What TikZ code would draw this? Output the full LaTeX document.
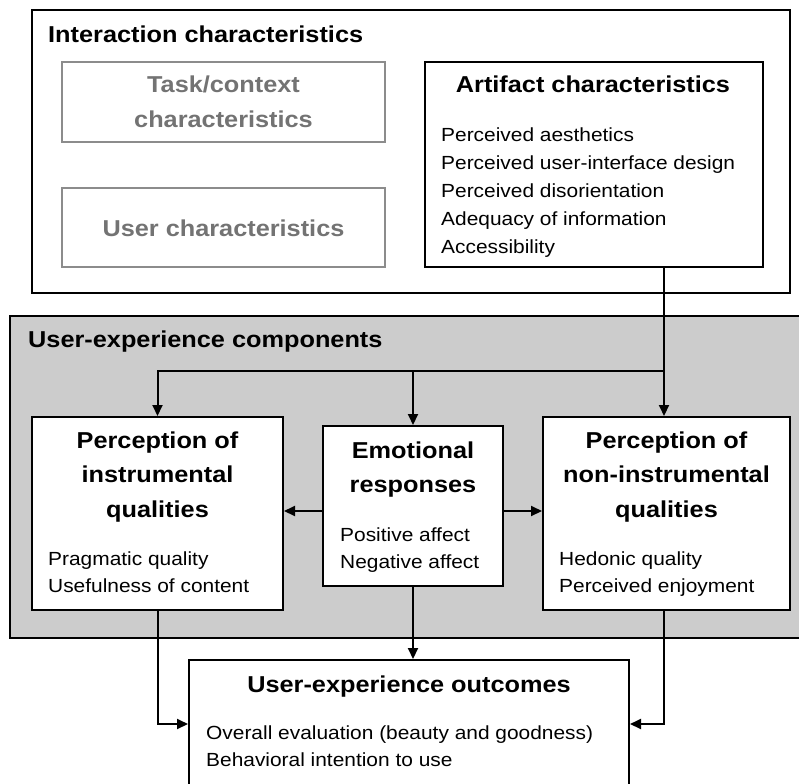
\documentclass[tikz,border=0pt]{standalone}
\usepackage{fontspec}
\setmainfont{Liberation Sans}[FakeStretch=1.1]
\usetikzlibrary{arrows.meta}

\begin{document}
\begin{tikzpicture}[x=1pt,y=-1pt,
  box/.style={draw, line width=2pt, fill=white, inner sep=0},
  ghost/.style={draw=black!45, line width=1.8pt, inner sep=0},
  head/.style={font=\fontsize{23}{28}\selectfont\bfseries, anchor=base, inner sep=0},
  item/.style={font=\fontsize{19}{23}\selectfont, anchor=base west, inner sep=0},
  flow/.style={line width=2pt, -{Triangle[length=11pt,width=10pt]}}]
  \useasboundingbox (0,0) rectangle (799,783);

  % Interaction characteristics
  \draw[line width=2pt] (32,10) rectangle (790,293);
  \node[head, anchor=base west] (inter) at (48,43) {Interaction characteristics};

  \node[ghost, minimum width=323pt, minimum height=80pt] (task) at (223.5,102) {};
  \node[head, text=black!55] (task1) at (223.5,93) {Task/context};
  \node[head, text=black!55] (task2) at (223.5,128) {characteristics};

  \node[ghost, minimum width=323pt, minimum height=79pt] (user) at (223.5,227.5) {};
  \node[head, text=black!55] (user1) at (223.5,237) {User characteristics};

  \node[box, minimum width=338pt, minimum height=205pt] (art) at (594,164.5) {};
  \node[head] (arthead) at (593,93) {Artifact characteristics};
  \foreach \t [count=\i] in {Perceived aesthetics, Perceived user-interface design,
      Perceived disorientation, Adequacy of information, Accessibility}
    \node[item] (art\i) at (441,{142+28*(\i-1)}) {\t};

  % User-experience components
  \draw[line width=2pt, fill=black!20] (10,316) rectangle (810,638);
  \node[head, anchor=base west] (comp) at (28,347) {User-experience components};

  \node[box, minimum width=251pt, minimum height=193pt] (instr) at (157.5,513.5) {};
  \foreach \t [count=\i] in {Perception of, instrumental, qualities}
    \node[head] (instr\i) at (157.5,{448+34.5*(\i-1)}) {\t};
  \foreach \t [count=\i] in {Pragmatic quality, Usefulness of content}
    \node[item] (instrit\i) at (48,{565+27.5*(\i-1)}) {\t};

  \node[box, minimum width=180pt, minimum height=160pt] (emo) at (413,506) {};
  \foreach \t [count=\i] in {Emotional, responses}
    \node[head] (emo\i) at (413,{458+34.5*(\i-1)}) {\t};
  \foreach \t [count=\i] in {Positive affect, Negative affect}
    \node[item] (emoit\i) at (340,{541+27.5*(\i-1)}) {\t};

  \node[box, minimum width=247pt, minimum height=193pt] (noni) at (666.5,513.5) {};
  \foreach \t [count=\i] in {Perception of, non-instrumental, qualities}
    \node[head] (noni\i) at (666.5,{448+34.5*(\i-1)}) {\t};
  \foreach \t [count=\i] in {Hedonic quality, Perceived enjoyment}
    \node[item] (noniit\i) at (559,{565+27.5*(\i-1)}) {\t};

  % User-experience outcomes
  \node[box, minimum width=440pt, minimum height=128pt] (out) at (409,724) {};
  \node[head] (outhead) at (409,692) {User-experience outcomes};
  \foreach \t [count=\i] in {Overall evaluation (beauty and goodness), Behavioral intention to use}
    \node[item] (outit\i) at (206,{739+27.5*(\i-1)}) {\t};

  % Pfeile
  \coordinate (split) at (664,371);
  \draw[flow] (art.south -| split) -- (split |- noni.north);
  \draw[flow] (split) -| (instr.north);
  \draw[flow] (split -| emo.north) -- (emo.north);
  \draw[flow] ([yshift=-5pt]emo.west) -- ([yshift=-5pt]emo.west -| instr.east);
  \draw[flow] ([yshift=-5pt]emo.east) -- ([yshift=-5pt]emo.east -| noni.west);
  \draw[flow] (emo.south) -- (emo.south |- out.north);
  \draw[flow] (instr.south) |- (out.west);
  \draw[flow] (split |- noni.south) |- (out.east);
\end{tikzpicture}
\end{document}
